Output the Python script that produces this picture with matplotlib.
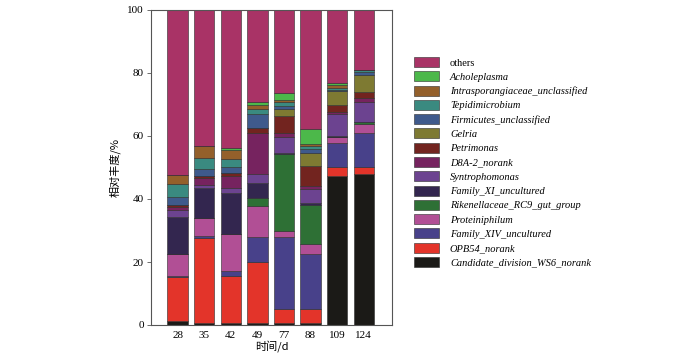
import numpy as np
import matplotlib
matplotlib.use("Agg")
from matplotlib import pyplot as plt

days = ["28", "35", "42", "49", "77", "88", "109", "124"]

# stacking order: bottom -> top
taxa = [
    "Candidate_division_WS6_norank",
    "OPB54_norank",
    "Family_XIV_uncultured",
    "Proteiniphilum",
    "Rikenellaceae_RC9_gut_group",
    "Family_XI_uncultured",
    "Syntrophomonas",
    "D8A-2_norank",
    "Petrimonas",
    "Gelria",
    "Firmicutes_unclassified",
    "Tepidimicrobium",
    "Intrasporangiaceae_unclassified",
    "Acholeplasma",
    "others",
]

ws6 = [1.3, 0.7, 0.5, 0.5, 0.5, 0.7, 47.4, 47.9]
opb54 = [13.8, 26.8, 15.2, 19.6, 4.5, 4.3, 2.7, 2.2]
family_xiv = [0.6, 0.8, 1.4, 7.7, 22.8, 17.4, 7.6, 10.8]
proteiniphilum = [6.7, 5.6, 11.7, 9.9, 2.1, 3.2, 1.9, 2.9]
rikenellaceae = [0.0, 0.0, 0.0, 2.6, 24.4, 12.6, 0.0, 0.7]
family_xi = [12.0, 9.5, 13.2, 4.7, 0.4, 0.4, 0.4, 0.0]
syntrophomonas = [2.1, 1.0, 1.4, 2.9, 4.9, 4.5, 7.0, 6.2]
d8a2 = [0.9, 2.4, 4.0, 13.1, 1.4, 1.0, 0.7, 1.3]
petrimonas = [0.6, 0.5, 0.8, 1.4, 5.4, 6.4, 2.1, 2.1]
gelria = [0.0, 0.0, 0.0, 0.0, 2.2, 4.2, 4.6, 5.3]
firmicutes = [2.7, 2.2, 2.1, 4.6, 1.0, 1.3, 0.3, 0.9]
tepidimicrobium = [4.0, 3.6, 2.3, 1.5, 1.1, 0.8, 0.6, 0.7]
intrasporangiaceae = [2.9, 3.7, 3.0, 1.2, 0.7, 0.6, 0.9, 0.0]
acholeplasma = [0.0, 0.0, 0.5, 1.0, 2.2, 4.8, 0.7, 0.0]
others = [52.4, 43.2, 43.9, 29.3, 26.4, 37.8, 23.1, 19.0]

values = [ws6, opb54, family_xiv, proteiniphilum, rikenellaceae, family_xi,
          syntrophomonas, d8a2, petrimonas, gelria, firmicutes,
          tepidimicrobium, intrasporangiaceae, acholeplasma, others]

colors = ["#1b1a17", "#e3342a", "#48418a", "#b14f95", "#2e7035", "#33264f",
          "#6c4390", "#76235f", "#72241f", "#7e7a32", "#3f5a8c", "#3a8a80",
          "#94602b", "#4cb84a", "#a93366"]

serif = ["Liberation Serif", "DejaVu Serif"]
cjk = ["Noto Sans CJK SC", "DejaVu Sans"]

fig = plt.figure(figsize=(7, 3.58), dpi=100)
ax = fig.add_axes([151 / 700, 1 - 325 / 358, 241 / 700, 315 / 358])

x = np.arange(len(days))
bottom = np.zeros(len(days))
handles = []
for name, vals, c in zip(taxa, values, colors):
    vals = np.array(vals)
    b = ax.bar(x, vals, 0.77, bottom=bottom, color=c, edgecolor="#2b2b2b",
               linewidth=0.4, label=name)
    handles.append(b)
    bottom += vals

ax.set_xlim(-1, 8.06)
ax.set_ylim(0, 100)
ax.set_yticks([0, 20, 40, 60, 80, 100])
ax.set_xticks(x)
ax.set_xticklabels(days)
for t in ax.get_xticklabels() + ax.get_yticklabels():
    t.set_family(serif)
    t.set_fontsize(8)
ax.tick_params(axis="x", length=0, pad=4)
ax.tick_params(axis="y", length=3, width=0.6, pad=2, color="#555555")
for s in ax.spines.values():
    s.set_color("#555555")
    s.set_linewidth(0.8)

ax.set_ylabel("相对丰度/%", family=cjk, fontsize=8, labelpad=5)
ax.set_xlabel("时间/d", family=cjk, fontsize=8, labelpad=0)

leg = fig.legend(handles[::-1], taxa[::-1], loc="upper left",
                 bbox_to_anchor=(414 / 700, 1 - 57 / 358), frameon=False,
                 borderpad=0, borderaxespad=0, labelspacing=0.36,
                 handlelength=2.4, handleheight=1.1, handletextpad=1.05,
                 prop={"family": serif, "size": 7.5})
for t in leg.get_texts():
    if t.get_text() != "others":
        t.set_fontstyle("italic")

fig.savefig("out.png", dpi=100)
